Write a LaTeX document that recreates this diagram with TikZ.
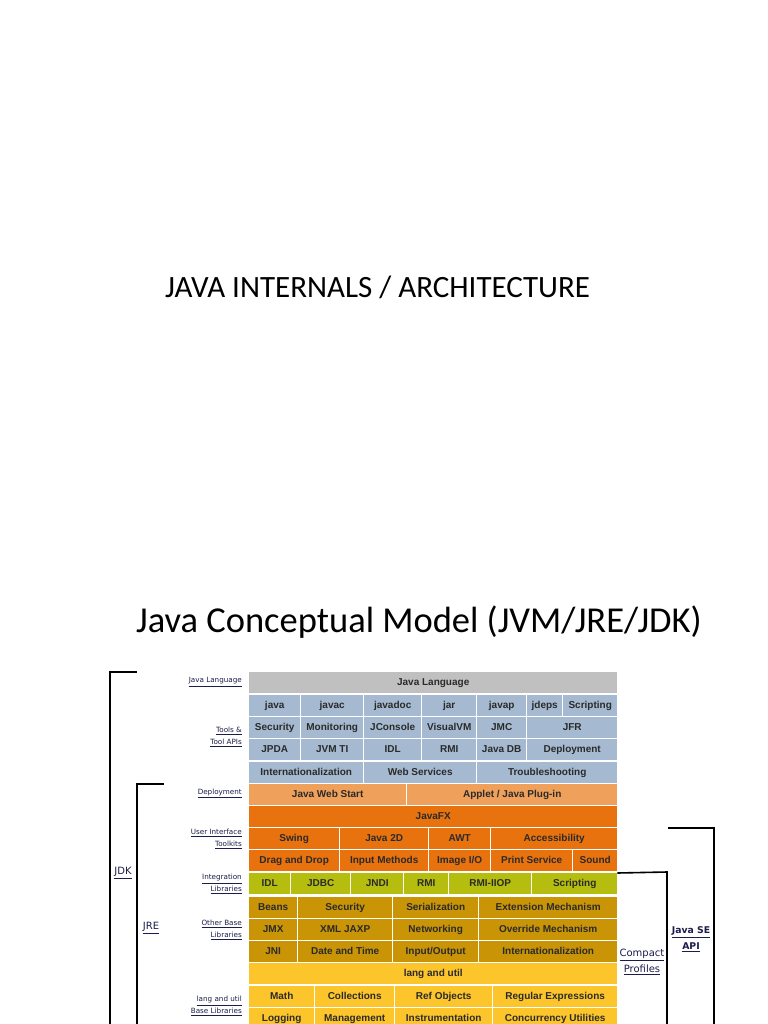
\documentclass[tikz,border=0pt]{standalone}
\usepackage{fontspec}
\setmainfont{DejaVu Sans}
\newfontfamily\titlefont{Carlito}
\newfontfamily\cellfont{Liberation Sans}
\definecolor{cgray}{HTML}{C0C0C0}
\definecolor{cblue}{HTML}{A5BAD0}
\definecolor{clorange}{HTML}{EFA05A}
\definecolor{corange}{HTML}{E8720E}
\definecolor{cgreen}{HTML}{B5BE0E}
\definecolor{cgold}{HTML}{C99406}
\definecolor{cyellow}{HTML}{FCC52C}
\definecolor{ctext}{HTML}{2A2A2A}
\definecolor{clabel}{HTML}{1C1C4C}
\tikzset{
  cellbox/.style={rectangle, inner sep=0pt, minimum height=21bp, anchor=north west,
    text height=7.2bp, text depth=2.1bp,
    font=\cellfont\bfseries\fontsize{10bp}{11bp}\selectfont, text=ctext},
  sidelabel/.style={anchor=east, inner sep=0pt, align=right,
    font=\fontsize{7.2bp}{11.5bp}\selectfont, text=clabel},
  biglabel/.style={inner sep=0pt, align=center,
    font=\fontsize{10bp}{16bp}\selectfont, text=clabel},
  bracket/.style={draw=black, line width=1.6bp}
}
\newcommand\cell[6]{\node[cellbox, fill=#5, minimum width={#3bp-#2bp}] (#1) at (#2,#4) {#6};}
\begin{document}
\begin{tikzpicture}[x=1bp,y=-1bp]
\useasboundingbox[fill=white] (0,0) rectangle (768,1024);
% titles
\node[anchor=west, inner sep=0pt, font=\titlefont\fontsize{31bp}{34bp}\selectfont] (t1) at (165,287) {JAVA INTERNALS / ARCHITECTURE};
\node[anchor=west, inner sep=0pt, font=\titlefont\fontsize{36.5bp}{40bp}\selectfont] (t2) at (136,622) {Java Conceptual Model (JVM/JRE/JDK)};
% row 1
\cell{jl}{249}{617}{672}{cgray}{Java Language}
% row 2
\cell{java}{249}{300}{695}{cblue}{java}
\cell{javac}{301}{363}{695}{cblue}{javac}
\cell{javadoc}{364}{421}{695}{cblue}{javadoc}
\cell{jar}{422}{476}{695}{cblue}{jar}
\cell{javap}{477}{526}{695}{cblue}{javap}
\cell{jdeps}{527}{562}{695}{cblue}{jdeps}
\cell{scr}{563}{617}{695}{cblue}{Scripting}
% row 3
\cell{sec}{249}{300}{717}{cblue}{Security}
\cell{mon}{301}{363}{717}{cblue}{Monitoring}
\cell{jcon}{364}{421}{717}{cblue}{JConsole}
\cell{vvm}{422}{476}{717}{cblue}{VisualVM}
\cell{jmc}{477}{526}{717}{cblue}{JMC}
\cell{jfr}{527}{617}{717}{cblue}{JFR}
% row 4
\cell{jpda}{249}{300}{739}{cblue}{JPDA}
\cell{jvmti}{301}{363}{739}{cblue}{JVM TI}
\cell{idlt}{364}{421}{739}{cblue}{IDL}
\cell{rmit}{422}{476}{739}{cblue}{RMI}
\cell{jdb}{477}{526}{739}{cblue}{Java DB}
\cell{depl}{527}{617}{739}{cblue}{Deployment}
% row 5
\cell{i18nt}{249}{363}{762}{cblue}{Internationalization}
\cell{ws}{364}{476}{762}{cblue}{Web Services}
\cell{trb}{477}{617}{762}{cblue}{Troubleshooting}
% row 6
\cell{jws}{249}{406}{784}{clorange}{Java Web Start}
\cell{applet}{407}{617}{784}{clorange}{Applet / Java Plug-in}
% row 7
\cell{jfx}{249}{617}{806}{corange}{JavaFX}
% row 8
\cell{swing}{249}{339}{828}{corange}{Swing}
\cell{j2d}{340}{428}{828}{corange}{Java 2D}
\cell{awt}{429}{490}{828}{corange}{AWT}
\cell{acc}{491}{617}{828}{corange}{Accessibility}
% row 9
\cell{dnd}{249}{339}{850}{corange}{Drag and Drop}
\cell{im}{340}{428}{850}{corange}{Input Methods}
\cell{iio}{429}{490}{850}{corange}{Image I/O}
\cell{ps}{491}{572}{850}{corange}{Print Service}
\cell{snd}{573}{617}{850}{corange}{Sound}
% row 10
\cell{idl}{249}{290}{873}{cgreen}{IDL}
\cell{jdbc}{291}{350}{873}{cgreen}{JDBC}
\cell{jndi}{351}{403}{873}{cgreen}{JNDI}
\cell{rmi}{404}{448}{873}{cgreen}{RMI}
\cell{iiop}{449}{531}{873}{cgreen}{RMI-IIOP}
\cell{scr2}{532}{617}{873}{cgreen}{Scripting}
% row 11
\cell{beans}{249}{297}{897}{cgold}{Beans}
\cell{sec2}{298}{392}{897}{cgold}{Security}
\cell{ser}{393}{478}{897}{cgold}{Serialization}
\cell{ext}{479}{617}{897}{cgold}{Extension Mechanism}
% row 12
\cell{jmx}{249}{297}{919}{cgold}{JMX}
\cell{xml}{298}{392}{919}{cgold}{XML JAXP}
\cell{net}{393}{478}{919}{cgold}{Networking}
\cell{ovr}{479}{617}{919}{cgold}{Override Mechanism}
% row 13
\cell{jni}{249}{297}{941}{cgold}{JNI}
\cell{dat}{298}{392}{941}{cgold}{Date and Time}
\cell{io}{393}{478}{941}{cgold}{Input/Output}
\cell{i18n}{479}{617}{941}{cgold}{Internationalization}
% row 14
\cell{lu}{249}{617}{963}{cyellow}{lang and util}
% row 15
\cell{math}{249}{314}{986}{cyellow}{Math}
\cell{coll}{315}{394}{986}{cyellow}{Collections}
\cell{ref}{395}{492}{986}{cyellow}{Ref Objects}
\cell{regex}{493}{617}{986}{cyellow}{Regular Expressions}
% row 16
\cell{log}{249}{314}{1008}{cyellow}{Logging}
\cell{mgmt}{315}{394}{1008}{cyellow}{Management}
\cell{instr}{395}{492}{1008}{cyellow}{Instrumentation}
\cell{conc}{493}{617}{1008}{cyellow}{Concurrency Utilities}
% side labels
\node[sidelabel] (l1) at (242,682) {\underline{Java Language}};
\node[sidelabel] (l2) at (242,737) {\underline{Tools \&}\\\underline{Tool APIs}};
\node[sidelabel] (l3) at (242,793) {\underline{Deployment}};
\node[sidelabel] (l4) at (242,839) {\underline{User Interface}\\\underline{Toolkits}};
\node[sidelabel] (l5) at (242,884) {\underline{Integration}\\\underline{Libraries}};
\node[sidelabel] (l6) at (242,930) {\underline{Other Base}\\\underline{Libraries}};
\node[sidelabel] (l7) at (242,1006) {\underline{lang and util}\\\underline{Base Libraries}};
% brackets
\coordinate (jdkt) at (137,672);
\coordinate (jdkc) at (110,672);
\coordinate (jdkb) at (110,1030);
\draw[bracket] (jdkt) -- (jdkc) -- (jdkb);
\coordinate (jret) at (164,784);
\coordinate (jrec) at (137,784);
\coordinate (jreb) at (137,1030);
\draw[bracket] (jret) -- (jrec) -- (jreb);
\coordinate (cpc) at (667,872);
\coordinate (cpb) at (667,1030);
\draw[bracket] (scr2.north east) -- (cpc) -- (cpb);
\coordinate (set) at (668,828);
\coordinate (sec) at (714,828);
\coordinate (seb) at (714,1030);
\draw[bracket] (set) -- (sec) -- (seb);
% bracket labels
\node[biglabel] (jdk) at (123,873) {\underline{JDK}};
\node[biglabel] (jre) at (151,928) {\underline{JRE}};
\node[biglabel] (cp) at (642,962) {\underline{Compact}\\\underline{Profiles}};
\node[biglabel, font=\bfseries\fontsize{9.3bp}{16bp}\selectfont] (seapi) at (691,939) {\underline{Java SE}\\\underline{API}};
\end{tikzpicture}
\end{document}
